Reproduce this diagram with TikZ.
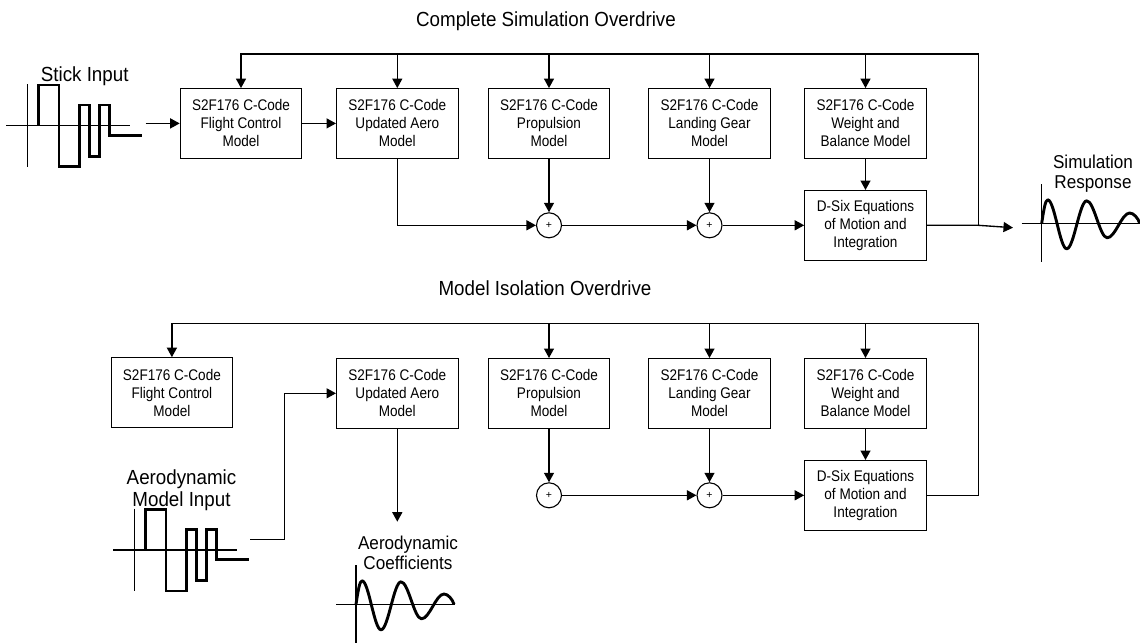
\documentclass[tikz,border=0pt]{standalone}
\usepackage{fontspec}
\setmainfont{Liberation Sans}
\newfontfamily\boxfont{Liberation Sans}[FakeStretch=0.88]
\newfontfamily\lblfont{Liberation Sans}[FakeStretch=0.92]
\usetikzlibrary{arrows.meta}

\tikzset{
  % square-pulse input signal with its axes
  stickwave/.pic={
    \draw[axisline] (-21.3,0) -- (102.7,0);
    \draw[axisline] (0,-41.4) -- (0,41);
    \draw[sig] (11,0) -- (11,-40.7) -- (31.7,-40.7) -- (31.7,41) -- (52,41)
      -- (52,-20.7) -- (62,-20.7) -- (62,30.5) -- (72.5,30.5) -- (72.5,-20.7)
      -- (82.5,-20.7) -- (82.5,9.5) -- (115,9.5);
  },
  % decaying oscillation response with its axes
  ringwave/.pic={
    \draw[axisline] (-20,0) -- (98.5,0);
    \draw[axisline] (0,-39) -- (0,39);
    \draw[sig, line join=round]
      (0,0) .. controls (2,-13) and (3.6,-23.5) .. (6,-23.5)
      .. controls (12.8,-23.5) and (18.2,25.5) .. (25,25.5)
      .. controls (32.2,25.5) and (37.8,-22.5) .. (45,-22.5)
      .. controls (52.4,-22.5) and (58.1,14.5) .. (65.5,14.5)
      .. controls (73.6,14.5) and (79.9,-10.3) .. (88,-10.3)
      .. controls (92,-10.3) and (96.5,-5) .. (98,0);
  },
}

\begin{document}
\begin{tikzpicture}[x=1pt,y=-1pt,
  model/.style={draw, line width=1.1pt, minimum width=121.5pt, minimum height=69.5pt,
    inner sep=0pt, align=center, font=\boxfont\fontsize{15.4}{18}\selectfont},
  sumnode/.style={draw, circle, line width=1.1pt, minimum size=25pt, inner sep=0pt,
    font=\fontsize{10.5}{10.5}\selectfont},
  wire/.style={line width=1.35pt},
  arr/.style={wire, -{Triangle[length=9.5pt,width=10pt]}},
  heading/.style={font=\lblfont\fontsize{20.4}{22}\selectfont, anchor=base},
  inlabel/.style={font=\lblfont\fontsize{20.4}{21.7}\selectfont, align=center, inner sep=0pt},
  outlabel/.style={font=\lblfont\fontsize{18.6}{20.3}\selectfont, align=center, inner sep=0pt},
  axisline/.style={line width=1.3pt},
  sig/.style={line width=2.9pt, line join=miter},
]
\useasboundingbox[fill=white] (0,0) rectangle (1140,643);

% ---------------- Complete simulation overdrive ----------------
\node[heading] (t1) at (546,26.7) {Complete Simulation Overdrive};

\node[model] (fc)   at (241,123.4)   {S2F176 C-Code\\Flight Control\\Model};
\node[model] (aero) at (397.3,123.4) {S2F176 C-Code\\Updated Aero\\Model};
\node[model] (prop) at (549,123.4)   {S2F176 C-Code\\Propulsion\\Model};
\node[model] (land) at (709.5,123.4) {S2F176 C-Code\\Landing Gear\\Model};
\node[model] (wgt)  at (865.5,123.4) {S2F176 C-Code\\Weight and\\Balance Model};
\node[model] (dsix) at (865.5,225.3) {D-Six Equations\\of Motion and\\Integration};

\node[sumnode] (s1) at (549,225.3) {+};
\node[sumnode] (s2) at (709.5,225.3) {+};

\pic at (27.3,125.7) {stickwave};
\node[inlabel, anchor=base west] (stick) at (40.7,81) {Stick Input};
\coordinate (stickout) at (145.7,123.4);

\pic at (1041.7,223.3) {ringwave};
\node[outlabel] (simresp) at (1093,174) {Simulation\\Response};
\coordinate (respin) at (1013,227.7);

\coordinate (fbR1) at (978.3,225.3);
\coordinate (fbT1) at (978.3,54);

\draw[arr] (stickout) -- (fc.west);
\draw[arr] (fc.east) -- (aero.west);
\draw[arr] (aero.south) |- (s1.west);
\draw[arr] (prop.south) -- (s1.north);
\draw[arr] (s1.east) -- (s2.west);
\draw[arr] (land.south) -- (s2.north);
\draw[arr] (s2.east) -- (dsix.west);
\draw[arr] (wgt.south) -- (dsix.north);
\draw[arr] (dsix.east) -- (fbR1) -- (respin);
\draw[arr] (fbR1) -- (fbT1) -| (fc.north);
\draw[arr] (aero.north |- fbT1) -- (aero.north);
\draw[arr] (prop.north |- fbT1) -- (prop.north);
\draw[arr] (land.north |- fbT1) -- (land.north);
\draw[arr] (wgt.north |- fbT1) -- (wgt.north);

% ---------------- Model isolation overdrive ----------------
\node[heading] (t2) at (545,295.7) {Model Isolation Overdrive};

\node[model] (fcb)   at (171.9,392.5) {S2F176 C-Code\\Flight Control\\Model};
\node[model] (aerob) at (397.3,393.3) {S2F176 C-Code\\Updated Aero\\Model};
\node[model] (propb) at (549,393.3)   {S2F176 C-Code\\Propulsion\\Model};
\node[model] (landb) at (709.5,393.3) {S2F176 C-Code\\Landing Gear\\Model};
\node[model] (wgtb)  at (865.5,393.3) {S2F176 C-Code\\Weight and\\Balance Model};
\node[model] (dsixb) at (865.5,495.3) {D-Six Equations\\of Motion and\\Integration};

\node[sumnode] (s1b) at (549,495.3) {+};
\node[sumnode] (s2b) at (709.5,495.3) {+};

\pic at (134.3,550) {stickwave};
\node[inlabel] (aeroinput) at (181.5,490) {Aerodynamic\\Model Input};
\coordinate (aeroin) at (250,539.3);

\pic at (356,604.3) {ringwave};
\node[outlabel] (coef) at (408,553) {Aerodynamic\\Coefficients};
\coordinate (coefin) at (397.3,521.7);

\coordinate (fbR2) at (978.3,495.3);
\coordinate (fbT2) at (978.3,323.7);

\draw[arr] (aeroin) -- ++(34.3,0) |- (aerob.west);
\draw[arr] (aerob.south) -- (coefin);
\draw[arr] (propb.south) -- (s1b.north);
\draw[arr] (s1b.east) -- (s2b.west);
\draw[arr] (landb.south) -- (s2b.north);
\draw[arr] (s2b.east) -- (dsixb.west);
\draw[arr] (wgtb.south) -- (dsixb.north);
\draw[arr] (dsixb.east) -- (fbR2) -- (fbT2) -| (fcb.north);
\draw[arr] (propb.north |- fbT2) -- (propb.north);
\draw[arr] (landb.north |- fbT2) -- (landb.north);
\draw[arr] (wgtb.north |- fbT2) -- (wgtb.north);
\end{tikzpicture}
\end{document}
